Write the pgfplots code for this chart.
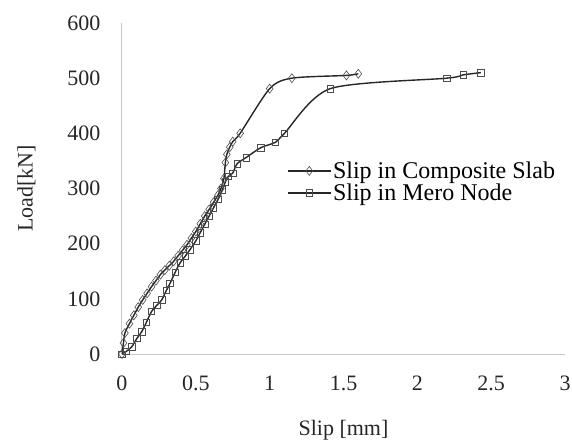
\documentclass[border=0pt]{standalone}
\usepackage{fontspec}
\setmainfont{Liberation Serif}
\usepackage{pgfplots}
\pgfplotsset{compat=1.18}
\definecolor{axgray}{RGB}{200,200,200}
\newcommand{\fs}{\fontsize{22bp}{26bp}\selectfont}
\begin{document}
\begin{tikzpicture}
\begin{axis}[
  scale only axis,
  width=443bp, height=331bp,
  xmin=0, xmax=3, ymin=0, ymax=600,
  xtick={0,0.5,...,3}, ytick={0,100,...,600},
  axis x line=bottom, axis y line=left,
  axis line style={axgray, line width=1bp, -},
  major tick length=0pt,
  /pgf/number format/assume math mode=true,
  ticklabel style={font=\fs, text=black!85},
  xticklabel style={yshift=-18bp},
  yticklabel style={xshift=-18bp},
  xlabel={Slip [mm]}, ylabel={Load[kN]},
  label style={font=\fs, text=black!85},
  xlabel style={yshift=-23bp},
  ylabel style={yshift=25bp},
  legend style={draw=none, fill=none, font=\fontsize{24bp}{28bp}\selectfont,
    at={(axis cs:1.10,356)}, anchor=north west, row sep=0bp},
  legend cell align=left,
  legend image code/.code={\draw[mark repeat=2, mark phase=2]
    plot coordinates {(0bp,0bp) (21bp,0bp) (42bp,0bp)};},
  every axis plot/.append style={black!85, line width=1.4bp, smooth, tension=0.45},
]
\addplot[mark=diamond, mark size=4.5bp, mark options={line width=0.6bp, black!70}] coordinates {
(0,0) (0.01,20) (0.02,38) (0.05,55) (0.08,70) (0.11,85) (0.14,98) (0.17,110)
(0.2,122) (0.23,133) (0.26,144) (0.29,152) (0.32,160) (0.35,168) (0.38,178)
(0.41,188) (0.44,198) (0.47,210) (0.5,222) (0.53,236) (0.56,250) (0.59,262)
(0.62,275) (0.65,288) (0.67,300) (0.69,318) (0.70,347) (0.71,362) (0.73,375)
(0.75,385) (0.80,400) (1.00,481) (1.15,500) (1.52,505) (1.60,508)
};
\addlegendentry{Slip in Composite Slab}
\addplot[mark=square, mark size=3.2bp, mark options={line width=0.6bp, black!70}] coordinates {
(0,0) (0.03,5) (0.066,13) (0.1,28) (0.133,40) (0.166,58) (0.2,77) (0.235,88)
(0.269,98) (0.3,115) (0.325,128) (0.36,148) (0.393,165) (0.43,178) (0.46,189)
(0.5,205) (0.53,220) (0.56,235) (0.59,250) (0.62,265) (0.65,280) (0.68,298)
(0.7,312) (0.72,322) (0.75,328) (0.78,345) (0.84,356) (0.94,374) (1.04,384)
(1.10,400) (1.41,481) (2.20,500) (2.31,506) (2.43,510)
};
\addlegendentry{Slip in Mero Node}
\end{axis}
\pgfresetboundingbox
\path[use as bounding box] (-122bp,-89bp) rectangle (450bp,354bp);
\end{tikzpicture}
\end{document}
